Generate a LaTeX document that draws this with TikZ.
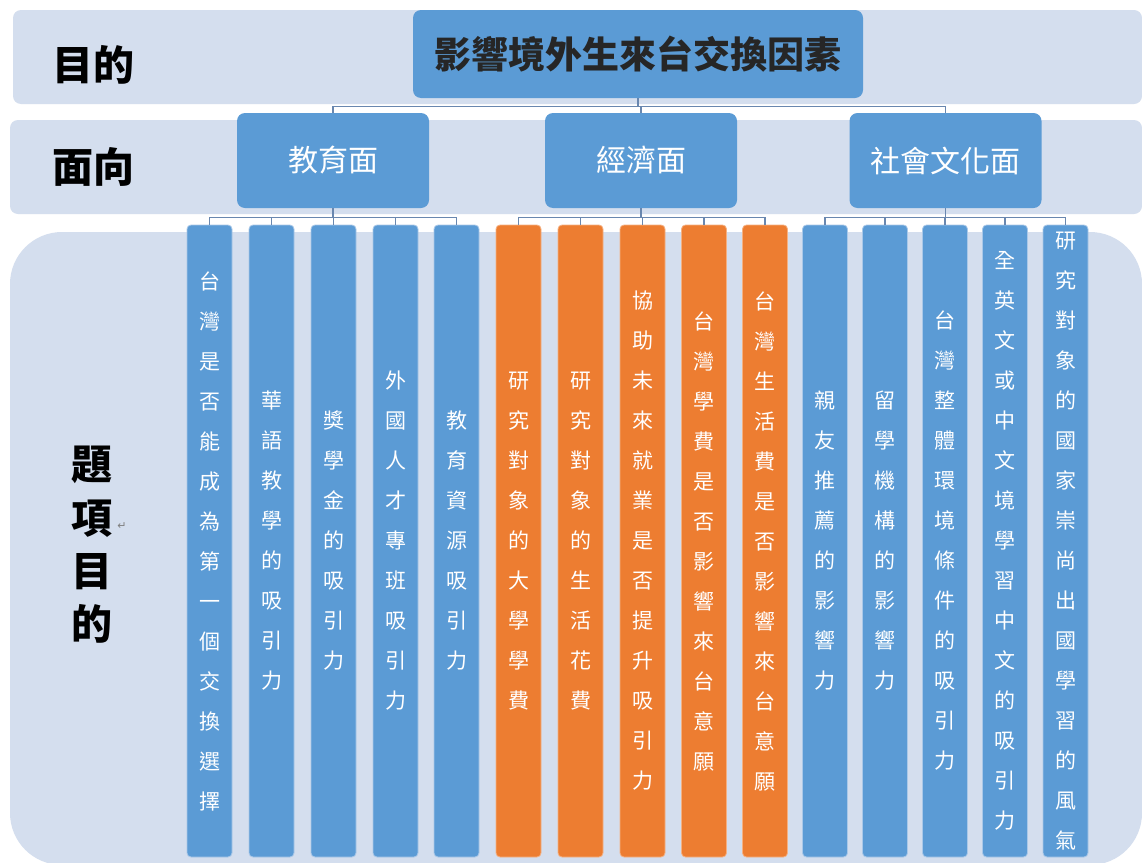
\documentclass[tikz,border=0pt]{standalone}
\usepackage{fontspec}
\newfontfamily\cjk{Noto Sans CJK TC}
\newfontfamily\symfont{DejaVu Sans}
\definecolor{bandc}{RGB}{212,222,238}
\definecolor{boxblue}{RGB}{91,155,213}
\definecolor{boxorange}{RGB}{237,125,49}
\definecolor{connc}{RGB}{105,135,175}
\definecolor{edgec}{RGB}{170,200,232}
\begin{document}
\begin{tikzpicture}[x=1pt,y=-1pt,
  band/.style={fill=bandc},
  topbox/.style={fill=boxblue, rounded corners=8pt, minimum width=450pt, minimum height=88pt, inner sep=0pt,
    font=\cjk\bfseries\fontsize{37}{40}\selectfont, text=black!85},
  midbox/.style={fill=boxblue, rounded corners=8pt, minimum width=192pt, minimum height=95pt, inner sep=0pt,
    font=\cjk\fontsize{30}{34}\selectfont, text=white},
  colbox/.style={draw=edgec, line width=0.8pt, rounded corners=4pt, minimum width=45pt, minimum height=632pt,
    inner sep=0pt, align=center, text=white, font=\cjk\fontsize{21}{40}\selectfont},
  bluecol/.style={colbox, fill=boxblue},
  orangecol/.style={colbox, fill=boxorange, draw=boxorange!60!white},
  label/.style={font=\cjk\bfseries\fontsize{41}{53.3}\selectfont, text=black, align=center, inner sep=0pt},
  conn/.style={draw=connc, line width=1.3pt}
]
\useasboundingbox (0,0) rectangle (1142,862);
\clip (0,0) rectangle (1142,862);
\fill[white] (0,0) rectangle (1142,862);
% bands
\fill[band, rounded corners=8pt] (13,10) rectangle (1142,104);
\fill[band, rounded corners=8pt] (10,120) rectangle (1142,214);
\fill[band, rounded corners=52pt] (10,232) rectangle (1142,865);
% labels
\node[label] (lab1) at (93,65) {目的};
\node[label] (lab2) at (93,167) {面向};
\node[label] (lab3) at (92,545) {題\\項\\目\\的};
\node[font=\symfont\fontsize{11}{12}\selectfont, text=gray, inner sep=0pt] (ret) at (122,526) {↵};
% top
\node[topbox] (top) at (638,54) {影響境外生來台交換因素};
% level 2
\node[midbox] (edu) at (333,160.5) {教育面};
\node[midbox] (eco) at (641,160.5) {經濟面};
\node[midbox] (soc) at (945.5,160.5) {社會文化面};
% level 3 columns
\node[bluecol] (c1) at (209.5,541) {台\\灣\\是\\否\\能\\成\\為\\第\\一\\個\\交\\換\\選\\擇};
\node[bluecol] (c2) at (271.5,541) {華\\語\\教\\學\\的\\吸\\引\\力};
\node[bluecol] (c3) at (333.5,541) {獎\\學\\金\\的\\吸\\引\\力};
\node[bluecol] (c4) at (395.5,541) {外\\國\\人\\才\\專\\班\\吸\\引\\力};
\node[bluecol] (c5) at (456.5,541) {教\\育\\資\\源\\吸\\引\\力};
\node[orangecol] (c6) at (518.5,541) {研\\究\\對\\象\\的\\大\\學\\學\\費};
\node[orangecol] (c7) at (580.5,541) {研\\究\\對\\象\\的\\生\\活\\花\\費};
\node[orangecol] (c8) at (642.5,541) {協\\助\\未\\來\\就\\業\\是\\否\\提\\升\\吸\\引\\力};
\node[orangecol] (c9) at (704,541) {台\\灣\\學\\費\\是\\否\\影\\響\\來\\台\\意\\願};
\node[orangecol] (c10) at (765,541) {台\\灣\\生\\活\\費\\是\\否\\影\\響\\來\\台\\意\\願};
\node[bluecol] (c11) at (825,541) {親\\友\\推\\薦\\的\\影\\響\\力};
\node[bluecol] (c12) at (885,541) {留\\學\\機\\構\\的\\影\\響\\力};
\node[bluecol] (c13) at (945,541) {台\\灣\\整\\體\\環\\境\\條\\件\\的\\吸\\引\\力};
\node[bluecol] (c14) at (1005,541) {全\\英\\文\\或\\中\\文\\境\\學\\習\\中\\文\\的\\吸\\引\\力};
\node[bluecol] (c15) at (1065.5,541) {研\\究\\對\\象\\的\\國\\家\\崇\\尚\\出\\國\\學\\習\\的\\風\\氣};
% connectors top -> level 2
\draw[conn] (top.south) -- ++(0,8) coordinate (jt);
\draw[conn] (jt) -| (edu.north);
\draw[conn] (jt) -| (eco.north);
\draw[conn] (jt) -| (soc.north);
% level 2 -> level 3
\draw[conn] (edu.south) -- ++(0,9) coordinate (je);
\foreach \c in {c1,c2,c3,c4,c5} \draw[conn] (je) -| (\c.north);
\draw[conn] (eco.south) -- ++(0,9) coordinate (jc);
\foreach \c in {c6,c7,c8,c9,c10} \draw[conn] (jc) -| (\c.north);
\draw[conn] (soc.south) -- ++(0,9) coordinate (js);
\foreach \c in {c11,c12,c13,c14,c15} \draw[conn] (js) -| (\c.north);
\end{tikzpicture}
\end{document}
